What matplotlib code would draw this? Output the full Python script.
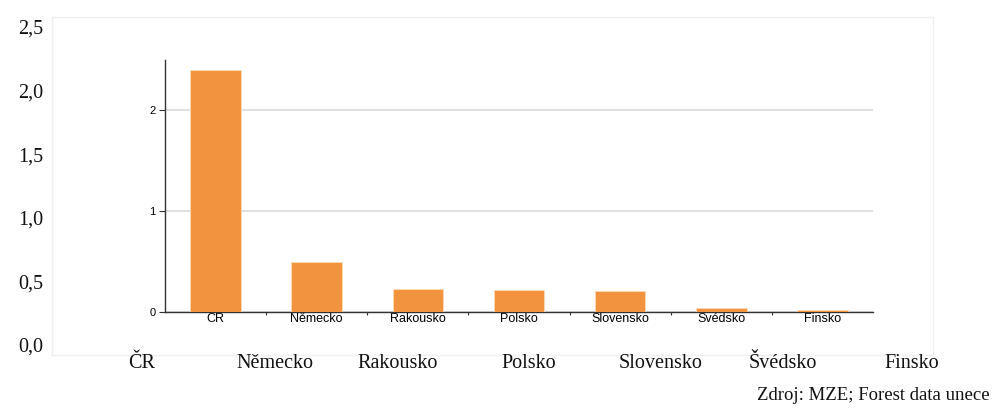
import matplotlib
matplotlib.use("Agg")
import matplotlib.pyplot as plt
import numpy as np

categories = ["ČR", "Německo", "Rakousko", "Polsko", "Slovensko", "Švédsko", "Finsko"]
values = [2.40, 0.50, 0.23, 0.22, 0.21, 0.035, 0.015]
inner_yticks = [0, 1, 2]
outer_yticks = [0.0, 0.5, 1.0, 1.5, 2.0, 2.5]
outer_ylabels = ["0,0", "0,5", "1,0", "1,5", "2,0", "2,5"]
source = "Zdroj: MZE; Forest data unece"

# layout (pixel positions of the outer category labels)
outer_label_x = [142, 275, 398, 529, 661, 783, 912]

W, H = 1000, 412
fig = plt.figure(figsize=(W / 100, H / 100), dpi=100)

serif = ["Liberation Serif", "DejaVu Serif"]
sans = ["Liberation Sans", "DejaVu Sans"]

# outer frame axes
ax_o = fig.add_axes([52 / W, (H - 355) / H, (933 - 52) / W, (355 - 17) / H])
ax_o.set_xlim(0, 1)
ppu = (345 - 27) / 2.5
ax_o.set_ylim(-(355 - 345) / ppu, 2.5 + (27 - 17) / ppu)
ax_o.set_xticks([])
ax_o.set_yticks(outer_yticks)
ax_o.set_yticklabels(outer_ylabels, family=serif, fontsize=14.5, color="#111111")
ax_o.tick_params(axis="y", length=0, pad=6)
for s in ax_o.spines.values():
    s.set_color("#f0f0f0")
    s.set_linewidth(1)

for lab, x in zip(categories, outer_label_x):
    fig.text(x / W, (H - 363) / H, lab, family=serif, fontsize=14.5,
             ha="center", va="center", color="#111111")

fig.text(990 / W, (H - 395) / H, source, family=serif, fontsize=13.5,
         ha="right", va="center", color="#111111")

# inner chart
ax = fig.add_axes([165 / W, (H - 312) / H, (873 - 165) / W, (312 - 60) / H])
x = np.arange(len(categories))
ax.bar(x, values, width=0.5, color="#F2933F", edgecolor="#fbd9b8", linewidth=0.6, zorder=3)
ax.set_xlim(-0.5, len(categories) - 0.5)
ax.set_ylim(0, 2.5)
ax.set_yticks(inner_yticks)
ax.set_yticklabels([str(v) for v in inner_yticks], family=sans, fontsize=8)
ax.yaxis.grid(True, color="#dddddd", linewidth=1.3, zorder=0)
ax.set_axisbelow(True)
ax.set_xticks(x)
ax.set_xticklabels(categories, family=sans, fontsize=9)
ax.tick_params(axis="x", length=0, pad=0.5)
ax.set_xticks(np.arange(len(categories) + 1)[1:-1] - 0.5, minor=True)
ax.tick_params(axis="x", which="minor", length=2.5, width=0.8, color="#333333")
ax.tick_params(axis="y", length=4, width=0.8, pad=3, color="#333333")
for s in ["top", "right"]:
    ax.spines[s].set_visible(False)
for s in ["left", "bottom"]:
    ax.spines[s].set_color("#333333")
    ax.spines[s].set_linewidth(1.0)
ax.patch.set_alpha(0)

fig.savefig("out.png", dpi=100, facecolor="white")
